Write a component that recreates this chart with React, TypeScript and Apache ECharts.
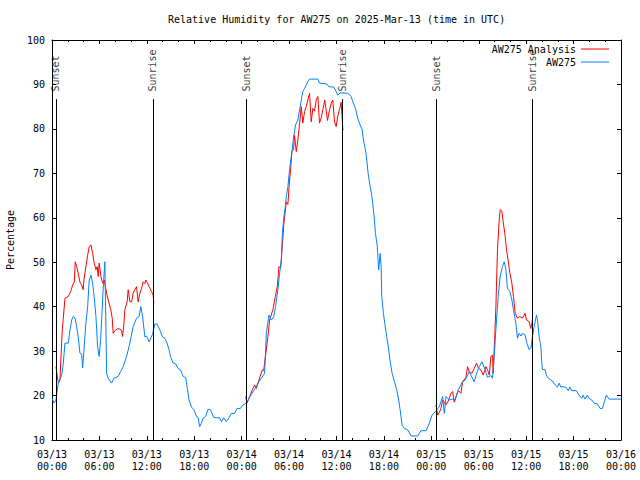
import React, { useEffect, useRef } from "react";
import * as echarts from "echarts";

const FONT = "DejaVu Sans Mono";

const titleText = "Relative Humidity for AW275 on 2025-Mar-13 (time in UTC)";
const seriesNames = ["AW275 Analysis", "AW275"];

// Hours since 03/13 00:00 UTC
const blueHours = [
  0, 0.25, 0.5, 0.8, 1.23, 1.43, 1.64, 2.06, 2.27, 2.49, 2.69, 2.9, 3.12, 3.32, 3.54, 3.75, 3.88, 4.04, 4.29, 4.51,
  4.71, 4.93, 5.14, 5.34, 5.56, 5.77, 5.97, 6.15, 6.32, 6.48, 6.57, 6.69, 6.78, 6.91, 7.11, 7.54, 7.83, 8.37, 8.68,
  9.01, 9.44, 9.85, 10.27, 10.7, 11.03, 11.24, 11.46, 11.75, 11.96, 12.29, 12.72, 13.01, 13.3, 13.64, 13.98, 14.27,
  14.56, 14.82, 14.99, 15.32, 15.66, 15.95, 16.26, 16.59, 16.93, 17.09, 17.34, 17.65, 17.97, 18.28, 18.48, 18.69,
  18.91, 19.11, 19.45, 19.74, 20.05, 20.46, 20.8, 21.22, 21.44, 21.73, 22.07, 22.4, 22.7, 23.12, 23.41, 23.84, 24.16,
  24.5, 24.8, 25.22, 25.64, 26.06, 26.49, 26.9, 27.03, 27.12, 27.45, 27.75, 28.04, 28.29, 28.58, 28.8, 29.01, 29.14,
  29.3, 29.52, 29.65, 29.85, 30.06, 30.28, 30.48, 30.61, 30.82, 31.11, 31.33, 31.54, 31.74, 31.96, 32.37, 32.59,
  33.64, 33.85, 34.77, 35.03, 35.66, 35.96, 36.16, 36.47, 37.43, 37.86, 38.06, 38.4, 38.69, 38.99, 39.25, 39.41,
  39.66, 39.83, 40.0, 40.26, 40.42, 40.58, 40.76, 40.93, 41.14, 41.34, 41.52, 41.65, 41.72, 41.94, 42.1, 42.35, 42.6,
  42.82, 43.04, 43.33, 43.62, 43.87, 44.05, 44.3, 44.59, 45.01, 45.44, 46.27, 46.7, 47.33, 47.75, 48.09, 48.51,
  49.01, 49.43, 49.64, 49.86, 50.27, 50.69, 51.03, 51.32, 51.62, 51.95, 52.29, 52.58, 52.8, 53.14, 53.43, 53.72,
  54.06, 54.4, 54.82, 55.11, 55.54, 55.74, 55.96, 56.08, 56.25, 56.46, 56.71, 57.0, 57.22, 57.43, 57.63, 57.94,
  58.19, 58.39, 58.7, 58.9, 59.11, 59.33, 59.53, 59.87, 60.09, 60.38, 60.59, 60.8, 61.01, 61.3, 61.43, 61.64, 61.86,
  61.98, 62.06, 62.4, 62.56, 62.8, 63.12, 63.32, 63.66, 63.95, 64.17, 64.38, 64.58, 65.01, 65.34, 65.52, 65.77,
  66.35, 66.69, 67.03, 67.2, 67.45, 67.74, 67.96, 68.3, 68.59, 69.01, 69.35, 69.65, 69.9, 70.15, 70.48, 72,
];
const blueValues = [
  19.5, 18.3, 19, 22.8, 24.6, 27.3, 31.8, 31.8, 34.7, 37, 37.8, 37.5, 35.5, 33.2, 29.5, 29.3, 26.2, 30.2, 36.3, 40,
  46, 47.1, 45.3, 42.2, 37.8, 31, 28.8, 32.5, 38.5, 44.2, 46.8, 50.1, 40, 25, 23.9, 22.8, 23.9, 24.3, 25.4,
  26.5, 28.8, 31.8, 35.5, 37.4, 37.8, 40, 37.8, 33.2, 33.4, 32.1, 33.8, 36.1, 36.1, 34.8, 33.2, 32.9,
  31.8, 30.3, 28.8, 27.3, 27.1, 26.1, 25.8, 24.3, 24, 22, 19, 17.4, 16.8, 15.3, 15.1, 13,
  13.8, 14.9, 15.3, 16.9, 16.8, 15.1, 15, 15, 14.1, 15, 14.1, 15, 16, 16, 17.1, 17.1, 17.9,
  18.2, 18.9, 20.3, 21.4, 22.8, 23.9, 25, 30.3, 34, 38.1, 37, 37.7, 40, 43.8, 47.5, 50.1, 56.1,
  59.5, 62.5, 64.8, 67, 70.8, 73.8, 76.8, 78.6, 80.9, 82, 84.3, 86.5, 88.4, 89.1, 90.6, 91.2,
  91.2, 90.3, 90.1, 89.5, 89.4, 88.4, 87.6, 88.1, 88, 87.3, 86.1, 84.6, 82.4, 80.9, 79.8, 77.5,
  75.3, 73, 70, 67, 65.5, 63.3, 60.3, 56.5, 53.9, 48.3, 52, 49, 42.3, 38.5, 36.3, 33.3, 30.3,
  27.3, 25, 23.1, 21.3, 19, 16.8, 13.4, 12.6, 12.3, 10.9, 10.9, 12.1, 12.1, 13.8, 15.6, 16.4,
  17.5, 19.8, 16, 19.8, 19, 19.2, 19, 20.9, 22, 23.1, 23.5, 24.6, 25.4, 24.1, 23.1, 24.9,
  26.5, 27.6, 25.8, 24.1, 24.5, 23.9, 28.8, 32.5, 37, 42.3, 46.8, 49, 50.1, 48.5, 44.1, 43.4,
  41.5, 39.3, 36.3, 32.9, 34, 33.4, 34, 33.6, 31.8, 30.3, 30.6, 33.3, 35.5, 38.1, 37, 33.3, 31,
  27.3, 25.9, 25.8, 24.6, 23.9, 23.5, 23.3, 22.4, 21.9, 22.8, 21.9, 22, 21.9, 21.1, 21.9, 21.1,
  21.1, 20.1, 19.4, 20.1, 19.2, 20.1, 19.4, 19, 18.3, 18.1, 17.1, 17.1, 18.6, 20.1, 19.2, 19.2,
];

// Analysis series (null marks a gap between nights)
const analysisHours = [
  0.5, 0.8, 1.01, 1.14, 1.3, 1.43, 1.64, 2.06, 2.36, 2.61, 2.82, 2.94, 3.12, 3.32, 3.54, 3.75, 3.95, 4.04, 4.29, 4.51,
  4.71, 4.93, 5.14, 5.34, 5.56, 5.72, 5.85, 5.97, 6.19, 6.4, 6.61, 6.91, 7.11, 7.41, 7.62, 7.74, 7.96, 8.25, 8.59,
  8.8, 8.93, 9.09, 9.22, 9.51, 9.64, 9.85, 10.07, 10.27, 10.48, 10.7, 10.9, 11.12, 11.33, 11.53, 11.75, 11.87, 12.04,
  12.29, 12.59, 12.8, 12.88,
  18,
  24.5, 24.67, 25.01, 25.35, 25.64, 25.85, 26.19, 26.61, 26.78, 27.12, 27.32, 27.54, 27.95, 28.26, 28.51, 28.71,
  28.93, 29.14, 29.34, 29.65, 29.85, 30.06, 30.19, 30.35, 30.57, 30.69, 30.91, 31.11, 31.33, 31.54, 31.74, 31.96,
  32.17, 32.37, 32.59, 32.8, 33.01, 33.22, 33.43, 33.64, 33.85, 34.07, 34.27, 34.52, 34.7, 34.86, 35.12, 35.33,
  35.53, 35.75, 35.96, 36.16, 36.38, 36.59, 36.8, 36.88,
  42,
  48.59, 48.8, 49.01, 49.22, 49.43, 49.64, 49.86, 50.19, 50.49, 50.69, 50.9, 51.19, 51.44, 51.75, 51.95, 52.38,
  52.58, 52.8, 53.14, 53.43, 53.72, 53.97, 54.27, 54.57, 54.91, 55.11, 55.33, 55.54, 55.74, 55.83, 56.04, 56.17,
  56.37, 56.59, 56.71, 56.93, 57.09, 57.35, 57.51, 57.77, 57.94, 58.19, 58.39, 58.61, 58.9, 59.2, 59.53, 59.87,
  60.04, 60.38, 60.59, 60.8,
];
const analysisValues = [
  26.5, 22.8, 23.5, 28.8, 34.8, 37.4, 41.9, 42.3, 43.4, 44.9, 45.5, 50.1, 49, 47.5, 45.5, 44.9, 43.8, 46, 49, 51.6,
  53.5, 53.9, 52, 49.8, 48.3, 49, 46.8, 49.8, 46.8, 45.3, 46, 43, 41.5, 39.6, 37.4, 34, 34.6, 35, 35,
  34.6, 33.3, 35.9, 39.3, 41.1, 43.8, 41.1, 41.1, 43, 43.8, 44.5, 41.1, 43, 44.1, 45.6, 45.2, 46, 45.5,
  44.5, 43.4, 42.6, 40.8,
  null,
  19.8, 18.3, 19.8, 21.3, 22.4, 21.6, 23.5, 25.8, 25.6, 30.3, 33.3, 37, 39.3, 42.3, 44.5, 49,
  48.7, 53.5, 58.8, 63.6, 63, 68.5, 70.8, 74.9, 75.3, 78.6, 74.9, 77.5, 81.3, 85, 81.3, 83.9,
  85, 86.5, 88, 81.6, 84.6, 84, 86.5, 87.3, 81.3, 82.5, 84.3, 86.5, 84, 81.9, 84.3, 85.8,
  86.5, 81.6, 80.5, 82.9, 84.3, 86, 80.1, 79.8,
  null,
  17.9, 15.6, 16.2, 17.1, 19, 18.5, 17.9, 19, 20.5, 20.9, 18.5, 20.1, 21.1, 20.5, 23.1, 24.1,
  26.5, 25.4, 25, 26.1, 27.3, 26.1, 25.8, 24.6, 26.5, 25.8, 24.6, 28.8, 29.1, 25, 34, 40,
  52.8, 59.5, 61.8, 61.5, 59.1, 55.8, 52.8, 49.8, 47.5, 45.3, 42.3, 38.5, 37.4, 37.8, 37.4, 38.5,
  37, 36.6, 35.1, 37,
];

const sunEventHours = [0.5, 12.77, 24.55, 36.72, 48.6, 60.77];
const sunEventNames = ["Sunset", "Sunrise", "Sunset", "Sunrise", "Sunset", "Sunrise"];
const sunLineTop = 86.7;

const startMonth = "03";
const startDay = 13;

function pad(n: number) {
  return n < 10 ? "0" + n : String(n);
}

function hourLabel(v: number) {
  const day = startDay + Math.floor(v / 24);
  const hh = Math.round(v % 24);
  return `${startMonth}/${pad(day)}\n${pad(hh)}:00`;
}

export default function App() {
  const ref = useRef<HTMLDivElement>(null);
  useEffect(() => {
    if (!ref.current) return;
    const chart = echarts.init(ref.current, undefined, { renderer: "svg" });
    const black = "#000000";
    const baseAxis = {
      type: "value" as const,
      axisLine: { show: true, onZero: false, lineStyle: { color: black, width: 1 } },
      axisTick: { show: true, inside: true, length: 4, lineStyle: { color: black } },
      splitLine: { show: false },
    };
    chart.setOption({
      animation: false,
      backgroundColor: "#ffffff",
      textStyle: { fontFamily: FONT, fontSize: 10, color: black },
      title: {
        text: titleText,
        left: 168,
        top: 14,
        padding: 0,
        textStyle: { fontFamily: FONT, fontSize: 10, fontWeight: "normal", color: black },
      },
      legend: {
        data: seriesNames,
        orient: "vertical",
        right: 31,
        top: 43,
        padding: 0,
        align: "right",
        itemWidth: 28,
        itemHeight: 1,
        itemGap: 1,
        icon: "rect",
        selectedMode: false,
        textStyle: { fontFamily: FONT, fontSize: 10, color: black, lineHeight: 12 },
      },
      grid: { left: 52, right: 19, top: 40, bottom: 40, show: false, containLabel: false, outerBoundsMode: "none" },
      xAxis: [
        {
          ...baseAxis,
          position: "bottom",
          min: 0,
          max: 72,
          interval: 6,
          minorTick: { show: true, splitNumber: 3, length: 2, lineStyle: { color: black } },
          minorSplitLine: { show: false },
          axisLabel: {
            formatter: hourLabel,
            margin: 8,
            lineHeight: 12.5,
            fontFamily: FONT,
            fontSize: 10,
            color: black,
            showMinLabel: true,
            showMaxLabel: true,
          },
        },
        {
          ...baseAxis,
          position: "top",
          min: 0,
          max: 72,
          interval: 6,
          minorTick: { show: true, splitNumber: 3, length: 2, lineStyle: { color: black } },
          minorSplitLine: { show: false },
          axisLabel: { show: false },
        },
      ],
      yAxis: [
        {
          ...baseAxis,
          position: "left",
          min: 10,
          max: 100,
          interval: 10,
          name: "Percentage",
          nameLocation: "middle",
          nameGap: 37,
          nameRotate: 90,
          nameTextStyle: { fontFamily: FONT, fontSize: 10, color: black },
          axisLabel: { margin: 7, fontFamily: FONT, fontSize: 10, color: black },
        },
        {
          ...baseAxis,
          position: "right",
          min: 10,
          max: 100,
          interval: 10,
          axisLabel: { show: false },
        },
      ],
      series: [
        {
          name: seriesNames[0],
          type: "line",
          data: analysisHours.map((h, i) => [h, analysisValues[i] === null ? "-" : analysisValues[i]]),
          connectNulls: false,
          symbol: "none",
          color: "#ff0000",
          lineStyle: { color: "#ff0000", width: 1 },
          silent: true,
          z: 2,
        },
        {
          name: seriesNames[1],
          type: "line",
          data: blueHours.map((h, i) => [h, blueValues[i]]),
          symbol: "none",
          color: "#0080ff",
          lineStyle: { color: "#0080ff", width: 1 },
          silent: true,
          z: 3,
        },
        {
          name: "sun",
          type: "scatter",
          data: sunEventHours.map((h) => [h, sunLineTop]),
          symbolSize: 1,
          itemStyle: { color: "rgba(0,0,0,0)" },
          silent: true,
          z: 4,
          label: {
            show: true,
            formatter: (p: any) => sunEventNames[p.dataIndex],
            position: "top",
            distance: 7,
            rotate: 90,
            align: "left",
            verticalAlign: "middle",
            fontFamily: FONT,
            fontSize: 10,
            color: black,
          },
          markLine: {
            silent: true,
            symbol: ["none", "none"],
            label: { show: false },
            lineStyle: { color: black, width: 1, type: "solid" },
            data: sunEventHours.map((h) => [{ coord: [h, 10] }, { coord: [h, sunLineTop] }]),
          },
        },
      ],
    });
    return () => chart.dispose();
  }, []);
  return <div ref={ref} style={{ width: 640, height: 480, position: "absolute", left: 0, top: 0 }} />;
}
